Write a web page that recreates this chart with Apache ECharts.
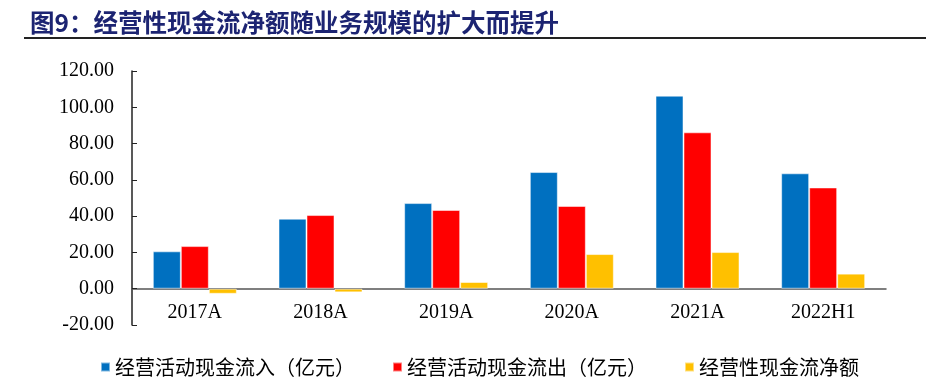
<!DOCTYPE html>
<html><head><meta charset="utf-8">
<script src="https://cdn.jsdelivr.net/npm/echarts@6/dist/echarts.min.js"></script>
<style>html,body{margin:0;padding:0;background:#fff}#c{width:932px;height:385px}</style>
</head><body><div id="c"></div>
<script>
var categories = ['2017A','2018A','2019A','2020A','2021A','2022H1'];
var inflow = [20.6, 38.6, 47.2, 64.3, 106.4, 63.6];
var outflow = [23.5, 40.6, 43.4, 45.6, 86.2, 55.8];
var netflow = [-2.8, -2.0, 3.7, 19.1, 20.2, 8.3];
var seriesNames = ['经营活动现金流入（亿元）','经营活动现金流出（亿元）','经营性现金流净额'];
var titleText = '图9：经营性现金流净额随业务规模的扩大而提升';

var chart = echarts.init(document.getElementById('c'));
var serif = '"Liberation Serif","Times New Roman",serif';
var cjk = '"Noto Sans CJK SC",sans-serif';
function bar(name, data, color){
  return {name:name, type:'bar', data:data, barWidth:28, barGap:'0%',
    itemStyle:{color:color, borderColor:'rgba(255,255,255,0.5)', borderWidth:1}};
}
chart.setOption({
  animation:false,
  title:{text:titleText, left:25, top:5,
    textStyle:{fontFamily:cjk, fontSize:24.5, fontWeight:'bold', color:'#1c2472'}},
  graphic:[{type:'line', shape:{x1:24,y1:38,x2:926,y2:38}, style:{stroke:'#222',lineWidth:2}}],
  legend:{left:95, top:352, itemWidth:9, itemHeight:9, itemGap:37, icon:'rect',
    textStyle:{fontFamily:cjk, fontSize:20, color:'#000'}, data:seriesNames},
  grid:{left:132, right:46, top:71, bottom:60},
  xAxis:{type:'category', data:categories,
    axisLine:{lineStyle:{color:'#555', width:1.5}},
    axisTick:{inside:true, length:6, lineStyle:{color:'#555'}},
    axisLabel:{fontFamily:serif, fontSize:20, color:'#000', margin:-22}},
  yAxis:{type:'value', min:-20, max:120, interval:20,
    axisLine:{show:true, lineStyle:{color:'#222', width:1.5}},
    axisTick:{show:true, inside:true, length:5, lineStyle:{color:'#222'}},
    splitLine:{show:false},
    axisLabel:{fontFamily:serif, fontSize:20, color:'#000', margin:18,
      formatter:function(v){return v.toFixed(2);}}},
  series:[bar(seriesNames[0], inflow, '#0070C0'), bar(seriesNames[1], outflow, '#FF0000'), bar(seriesNames[2], netflow, '#FFC000')]
});
</script></body></html>
